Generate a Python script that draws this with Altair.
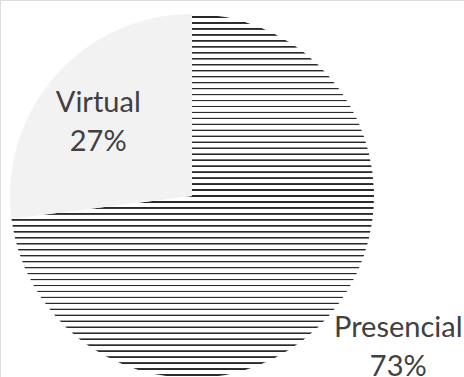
import altair as alt
import pandas as pd

categories = ["Presencial", "Virtual"]
values = [73, 27]
order = [0, 1]

df = pd.DataFrame({"cat": categories, "value": values, "ord": order})

# wavy-hatch look approximated by fine horizontal stripes
periods = 61
stops = []
for i in range(periods):
    a = i / periods
    p = 1 / periods
    stops += [
        {"offset": a, "color": "#ffffff"},
        {"offset": a + p * 0.33, "color": "#ffffff"},
        {"offset": a + p * 0.41, "color": "#2a2a2a"},
        {"offset": a + p * 0.59, "color": "#2a2a2a"},
        {"offset": a + p * 0.67, "color": "#ffffff"},
    ]
stops.append({"offset": 1, "color": "#ffffff"})
pattern = {"gradient": "linear", "x1": 0, "y1": 0, "x2": 0, "y2": 1, "stops": stops}

theta_scale = alt.Scale(domain=[0, 100])

base = alt.Chart(df).transform_stack(
    stack="value", groupby=[], as_=["t0", "t1"], sort=[alt.SortField("ord")]
).transform_calculate(
    mid="(datum.t0 + datum.t1) / 2",
    label="datum.cat + '\\n' + datum.value + '%'",
)

pie = base.mark_arc(radius=182, stroke=None).encode(
    x=alt.value(192),
    y=alt.value(196),
    theta=alt.Theta("t0:Q", scale=theta_scale, stack=None),
    theta2="t1:Q",
    fill=alt.condition(alt.datum.cat == "Presencial", alt.value(pattern), alt.value("#f2f2f2")),
)

def label_layer(cat, r, dy):
    return base.transform_filter(alt.datum.cat == cat).mark_text(
        font="Lato", fontSize=29, color="#404040", lineBreak="\n", lineHeight=39,
        align="center", baseline="middle", radius=r, dy=dy,
    ).encode(
        x=alt.value(192),
        y=alt.value(196),
        theta=alt.Theta("mid:Q", scale=theta_scale, stack=None),
        text="label:N",
    )

chart = (pie + label_layer("Presencial", 275, -50) + label_layer("Virtual", 125, -10)).properties(
    width=464, height=377, padding=0, autosize=alt.AutoSizeParams(type="none")
).configure_view(stroke=None).configure(background="#ffffff")

chart.save("out.html", embed_options={"renderer": "svg", "actions": False})
